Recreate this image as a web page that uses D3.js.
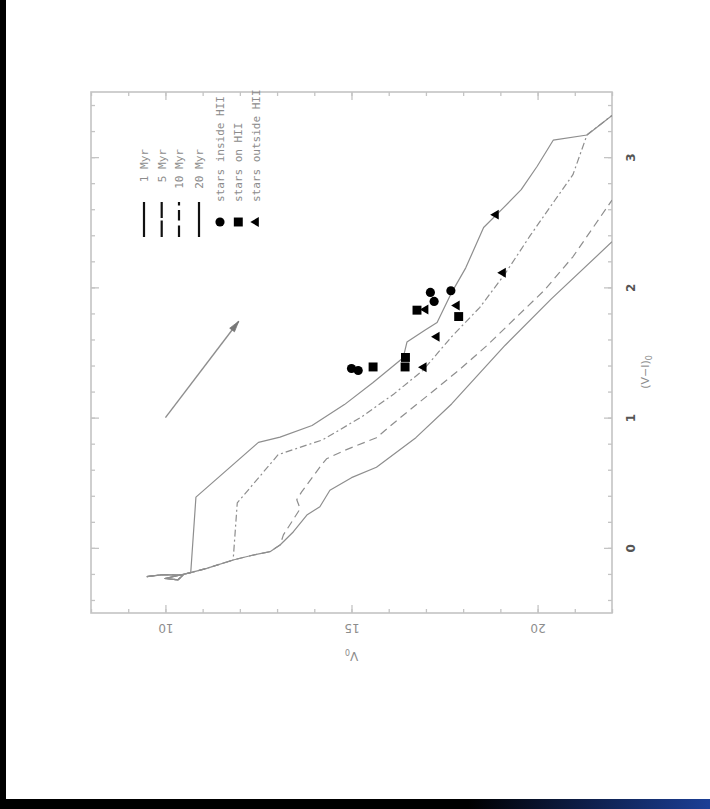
<!DOCTYPE html>
<html>
<head>
<meta charset="utf-8">
<script src="https://cdn.jsdelivr.net/npm/d3@7"></script>
<style>
  html, body { margin: 0; padding: 0; background: #fff; }
  svg { display: block; }
</style>
</head>
<body>
<svg id="chart" width="710" height="809"></svg>
<script>
// ---- data: colour–magnitude diagram, V0 vs (V-I)0 ----
// shared hot end of all isochrones (V0, (V-I)0)
const hotEnd = [[9.50,-0.22],[9.94,-0.205],[10.47,-0.21],[10.34,-0.245],[9.99,-0.235],[10.68,-0.19],
                [11.11,-0.157],[11.82,-0.093],[12.36,-0.055],[12.81,-0.029],[13.08,0.022]];

const iso1Myr = [[10.82,0.39],[12.50,0.81],[13.08,0.85],[13.94,0.94],[14.81,1.10],[15.58,1.27],
                 [16.39,1.46],[16.49,1.58],[16.97,1.67],[17.30,1.73],[17.69,1.96],[18.07,2.15],
                 [18.55,2.46],[19.08,2.61],[19.56,2.75],[19.99,2.93],[20.42,3.13],[21.33,3.17],[22.0,3.32]];
const iso5Myr = [[11.93,0.345],[13.03,0.716],[14.23,0.83],[15.28,1.007],[16.15,1.184],[16.92,1.363],
                 [17.69,1.621],[18.45,1.847],[19.13,2.106],[19.80,2.397],[20.47,2.671],[20.95,2.865],
                 [21.33,3.172],[22.0,3.32]];
const iso10Myr = [[13.17,0.10],[13.62,0.30],[13.53,0.37],[13.66,0.43],[14.15,0.62],[14.33,0.684],
                  [14.81,0.748],[15.67,0.846],[16.34,1.007],[17.11,1.184],[17.88,1.363],[18.65,1.556],
                  [19.41,1.766],[20.18,1.977],[20.95,2.235],[22.0,2.67]];
const iso20Myr = [[13.44,0.124],[13.80,0.252],[14.15,0.316],[14.42,0.442],[15.0,0.539],[15.67,0.619],
                  [16.73,0.846],[17.69,1.105],[19.13,1.556],[20.37,1.912],[22.0,2.35]];
// number of hot-end points each isochrone shares before branching off
const branchAt = [6, 8, 11, 11];

const starsInside  = [[15.00,1.377],[15.18,1.362],[17.12,1.961],[17.22,1.892],[17.67,1.974]];
const starsRim     = [[15.58,1.389],[16.44,1.389],[16.45,1.462],[16.76,1.825],[17.88,1.776]];
const starsOutside = [[16.94,1.387],[17.29,1.621],[17.83,1.861],[16.99,1.830],[18.88,2.558],[19.07,2.112]];

const reddening = [[10.0,1.0],[11.97,1.74]];

const ageLabels = ["1 Myr","5 Myr","10 Myr","20 Myr"];
const starLabels = ["stars inside HII","stars on HII","stars outside HII"];
const vTicks = [10,15,20];
const vMinor = d3.range(8,23,1);
const ciTicks = [0,1,2,3];
const ciMinor = d3.range(-0.4,3.5,0.2).map(d => +d.toFixed(1));

// ---- layout (plot drawn in landscape orientation: V0 runs left→right, colour bottom→top) ----
const svg = d3.select("#chart");
const L = 91, T = 92, R = 612, B = 613;
const x = d3.scaleLinear().domain([8,22]).range([L,R]);
const y = d3.scaleLinear().domain([-0.5,3.5]).range([B,T]);

const grey = "#8e8e8e", frameGrey = "#c4c4c4", textGrey = "#8c8c8c";

// page edges
const defs = svg.append("defs");
const grad = defs.append("linearGradient").attr("id","barGrad").attr("x1","0").attr("x2","1");
grad.append("stop").attr("offset","0").attr("stop-color","#000");
grad.append("stop").attr("offset","0.66").attr("stop-color","#000");
grad.append("stop").attr("offset","1").attr("stop-color","#1c3f96");
svg.append("rect").attr("x",0).attr("y",0).attr("width",6).attr("height",809).attr("fill","#000");
svg.append("rect").attr("x",0).attr("y",799).attr("width",710).attr("height",10).attr("fill","url(#barGrad)");

defs.append("clipPath").attr("id","plotClip").append("rect")
  .attr("x",L).attr("y",T).attr("width",R-L).attr("height",B-T);

// ---- axes (ticks point inward on all four sides) ----
function tickAxis(axisFn, scale, values, size, translate) {
  return svg.append("g").attr("transform",translate)
    .call(axisFn(scale).tickValues(values).tickSize(-size).tickFormat(""))
    .call(g => g.select(".domain").remove())
    .call(g => g.selectAll("line").attr("stroke",frameGrey).attr("stroke-width",1.3));
}
tickAxis(d3.axisBottom, x, vMinor, 4, `translate(0,${B})`);
tickAxis(d3.axisTop, x, vMinor, 4, `translate(0,${T})`);
tickAxis(d3.axisTop, x, vTicks, 8, `translate(0,${T})`);
tickAxis(d3.axisRight, y, ciMinor, 4, `translate(${R},0)`);
tickAxis(d3.axisLeft, y, ciMinor, 4, `translate(${L},0)`);
tickAxis(d3.axisLeft, y, ciTicks, 8, `translate(${L},0)`);

// labelled axes
svg.append("g").attr("transform",`translate(0,${B})`)
  .call(d3.axisBottom(x).tickValues(vTicks).tickSize(-8).tickFormat(d3.format("d")))
  .call(g => g.select(".domain").remove())
  .call(g => g.selectAll("line").attr("stroke",frameGrey).attr("stroke-width",1.3))
  .call(g => g.selectAll("text")
      .attr("y",0).attr("dy","0.35em").attr("text-anchor","middle")
      .attr("transform","translate(0,15) rotate(180)")
      .attr("fill",textGrey).attr("font-size",12).attr("font-family","DejaVu Sans"));

svg.append("g").attr("transform",`translate(${R},0)`)
  .call(d3.axisRight(y).tickValues(ciTicks).tickSize(-8).tickFormat(d3.format("d")))
  .call(g => g.select(".domain").remove())
  .call(g => g.selectAll("line").attr("stroke",frameGrey).attr("stroke-width",1.3))
  .call(g => g.selectAll("text")
      .attr("x",0).attr("dy","0.35em").attr("text-anchor","middle")
      .attr("transform","translate(19,0) rotate(-90)")
      .attr("fill","#555").attr("font-size",12).attr("font-family","DejaVu Sans").attr("font-weight","bold"));

// frame
svg.append("rect").attr("x",L).attr("y",T).attr("width",R-L).attr("height",B-T)
  .attr("fill","none").attr("stroke",frameGrey).attr("stroke-width",1.6);

// axis titles
const vTitle = svg.append("text")
  .attr("transform",`translate(${(L+R)/2},656) rotate(180)`)
  .attr("text-anchor","middle").attr("dy","0.35em")
  .attr("fill",textGrey).attr("font-size",12).attr("font-family","DejaVu Sans");
vTitle.append("tspan").text("V");
vTitle.append("tspan").attr("font-size",8).attr("dy","3").text("0");

const cTitle = svg.append("text")
  .attr("transform",`translate(645,372) rotate(-90)`)
  .attr("text-anchor","middle").attr("dy","0.35em")
  .attr("fill",textGrey).attr("font-size",11).attr("font-family","DejaVu Sans");
cTitle.append("tspan").text("(V−I)");
cTitle.append("tspan").attr("font-size",8).attr("dy","3").text("0");

// ---- isochrones ----
const line = d3.line().x(d => x(d[0])).y(d => y(d[1]));
const isochrones = [iso1Myr, iso5Myr, iso10Myr, iso20Myr];
const dashes = [null, "7,3,2,3", "8,5", null];
const plot = svg.append("g").attr("clip-path","url(#plotClip)");
isochrones.forEach((iso, i) => {
  const pts = hotEnd.slice(0, branchAt[i]).concat(iso);
  plot.append("path").datum(pts).attr("d",line)
    .attr("fill","none").attr("stroke",grey).attr("stroke-width",1.2)
    .attr("stroke-linejoin","round")
    .attr("stroke-dasharray",dashes[i]);
});

// reddening vector
const [r0, r1] = reddening;
const ax0 = x(r0[0]), ay0 = y(r0[1]), ax1 = x(r1[0]), ay1 = y(r1[1]);
plot.append("line").attr("x1",ax0).attr("y1",ay0).attr("x2",ax1).attr("y2",ay1)
  .attr("stroke",grey).attr("stroke-width",1.4);
{
  const ang = Math.atan2(ay1-ay0, ax1-ax0), len = 11, half = 3;
  const bx = ax1 - len*Math.cos(ang), by = ay1 - len*Math.sin(ang);
  const nx = -Math.sin(ang)*half, ny = Math.cos(ang)*half;
  plot.append("path")
    .attr("d",`M${ax1},${ay1}L${bx+nx},${by+ny}L${bx-nx},${by-ny}Z`)
    .attr("fill","#777").attr("stroke","#777").attr("stroke-width",0.8);
}

// ---- stars ----
const circleSym = d3.symbol().type(d3.symbolCircle).size(66);
const squareSym = d3.symbol().type(d3.symbolSquare).size(80);
const triSym = d3.symbol().type(d3.symbolTriangle).size(42);
function markers(data, sym, rot) {
  plot.append("g").selectAll("path").data(data).join("path")
    .attr("d",sym)
    .attr("transform",d => `translate(${x(d[0])},${y(d[1])}) rotate(${rot})`)
    .attr("fill","#000");
}
markers(starsInside, circleSym, 0);
markers(starsRim, squareSym, 0);
markers(starsOutside, triSym, -90);

// ---- legend ----
const legend = svg.append("g");
const ageX = [144, 161.7, 179, 199];
const ageDash = [null, "16,2.5,17", "3.5,4.5,10.5,5,12", null];
ageLabels.forEach((lab, i) => {
  legend.append("line").attr("x1",ageX[i]).attr("x2",ageX[i]).attr("y1",202).attr("y2",237)
    .attr("stroke","#111").attr("stroke-width",2.2).attr("stroke-dasharray",ageDash[i]);
  legend.append("text").attr("transform",`translate(${ageX[i]},149) rotate(-90)`)
    .attr("text-anchor","end").attr("dy","0.35em")
    .attr("fill",textGrey).attr("font-size",11).attr("font-family","DejaVu Sans Mono")
    .text(lab);
});
const starX = [220, 238.3, 256];
const starSyms = [circleSym, squareSym, triSym];
const starRot = [0, 0, -90];
starLabels.forEach((lab, i) => {
  legend.append("path").attr("d",starSyms[i])
    .attr("transform",`translate(${starX[i]},222) rotate(${starRot[i]})`).attr("fill","#000");
  legend.append("text").attr("transform",`translate(${starX[i]},202) rotate(-90)`)
    .attr("text-anchor","start").attr("dy","0.35em")
    .attr("fill",textGrey).attr("font-size",11).attr("font-family","DejaVu Sans Mono")
    .text(lab);
});
</script>
</body>
</html>
